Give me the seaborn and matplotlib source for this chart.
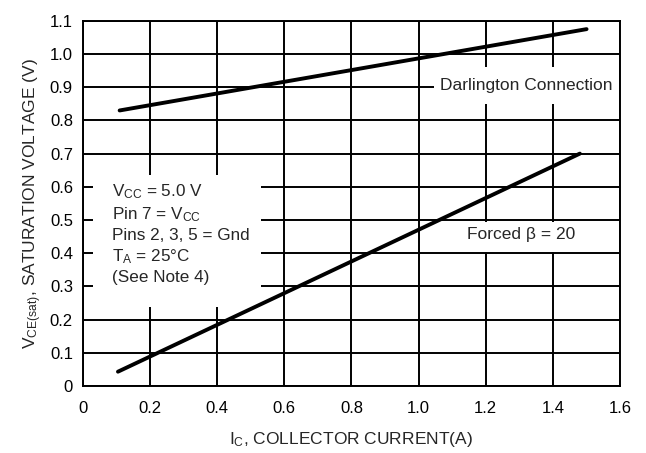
import matplotlib
matplotlib.use("Agg")
import matplotlib.pyplot as plt
import seaborn as sns
import pandas as pd
from matplotlib.patches import Rectangle

# Data
darlington_x = [0.11, 1.50]
darlington_y = [0.83, 1.075]
forced_x = [0.105, 1.48]
forced_y = [0.043, 0.70]
x_ticks = [0, 0.2, 0.4, 0.6, 0.8, 1.0, 1.2, 1.4, 1.6]
x_tick_labels = ["0", "0.2", "0.4", "0.6", "0.8", "1.0", "1.2", "1.4", "1.6"]
y_ticks = [0, 0.1, 0.2, 0.3, 0.4, 0.5, 0.6, 0.7, 0.8, 0.9, 1.0, 1.1]
y_tick_labels = ["0", "0.1", "0.2", "0.3", "0.4", "0.5", "0.6", "0.7", "0.8", "0.9", "1.0", "1.1"]

sns.set_style("white")
fam = ["Liberation Sans", "DejaVu Sans"]
plt.rcParams["font.family"] = fam
plt.rcParams["mathtext.fontset"] = "custom"
plt.rcParams["mathtext.rm"] = "Liberation Sans"
plt.rcParams["mathtext.it"] = "Liberation Sans"

fig = plt.figure(figsize=(6.46, 4.53), dpi=100)
ax = fig.add_axes([0.128, 0.148, 0.832, 0.806])

df = pd.concat([
    pd.DataFrame({"x": darlington_x, "y": darlington_y, "s": "Darlington"}),
    pd.DataFrame({"x": forced_x, "y": forced_y, "s": "Forced"}),
])
sns.lineplot(data=df, x="x", y="y", hue="s", palette=["black", "black"],
             linewidth=2.8, legend=False, ax=ax, zorder=5)

ax.set_xlim(0, 1.6)
ax.set_ylim(0, 1.1)
ax.set_xticks(x_ticks)
ax.set_xticklabels(x_tick_labels)
ax.set_yticks(y_ticks)
ax.set_yticklabels(y_tick_labels)
ax.tick_params(axis="both", length=0, labelsize=12, colors="black")
ax.tick_params(axis="x", pad=11)
ax.tick_params(axis="y", pad=7)
ax.grid(True, color="black", linewidth=1.4, zorder=1)
ax.set_axisbelow(True)
for sp in ax.spines.values():
    sp.set_color("black")
    sp.set_linewidth(1.4)
    sp.set_visible(True)

# white label boxes covering grid
ax.add_patch(Rectangle((0.03, 0.238), 0.50, 0.398, facecolor="white", edgecolor="none", zorder=2))
ax.add_patch(Rectangle((1.045, 0.85), 0.553, 0.111, facecolor="white", edgecolor="none", zorder=2))
ax.add_patch(Rectangle((1.005, 0.405), 0.593, 0.09, facecolor="white", edgecolor="none", zorder=2))

ax.text(1.32, 0.905, "Darlington Connection", ha="center", va="center", fontsize=12.5, zorder=6)
ax.text(1.305, 0.455, "Forced β = 20", ha="center", va="center", fontsize=12.5, zorder=6)

cond = ("V$_{\\mathrm{CC}}$ = 5.0 V\n"
        "Pin 7 = V$_{\\mathrm{CC}}$\n"
        "Pins 2, 3, 5 = Gnd\n"
        "T$_{\\mathrm{A}}$ = 25°C\n"
        "(See Note 4)")
ax.text(0.088, 0.615, cond, ha="left", va="top", fontsize=12.3, linespacing=1.32, zorder=6)

ax.set_xlabel("I$_{\\mathrm{C}}$, COLLECTOR CURRENT(A)", fontsize=12.5, labelpad=10)
ax.set_ylabel("V$_{\\mathrm{CE(sat)}}$, SATURATION VOLTAGE (V)", fontsize=12.5, labelpad=4)

fig.savefig("out.png", dpi=100, facecolor="white")
